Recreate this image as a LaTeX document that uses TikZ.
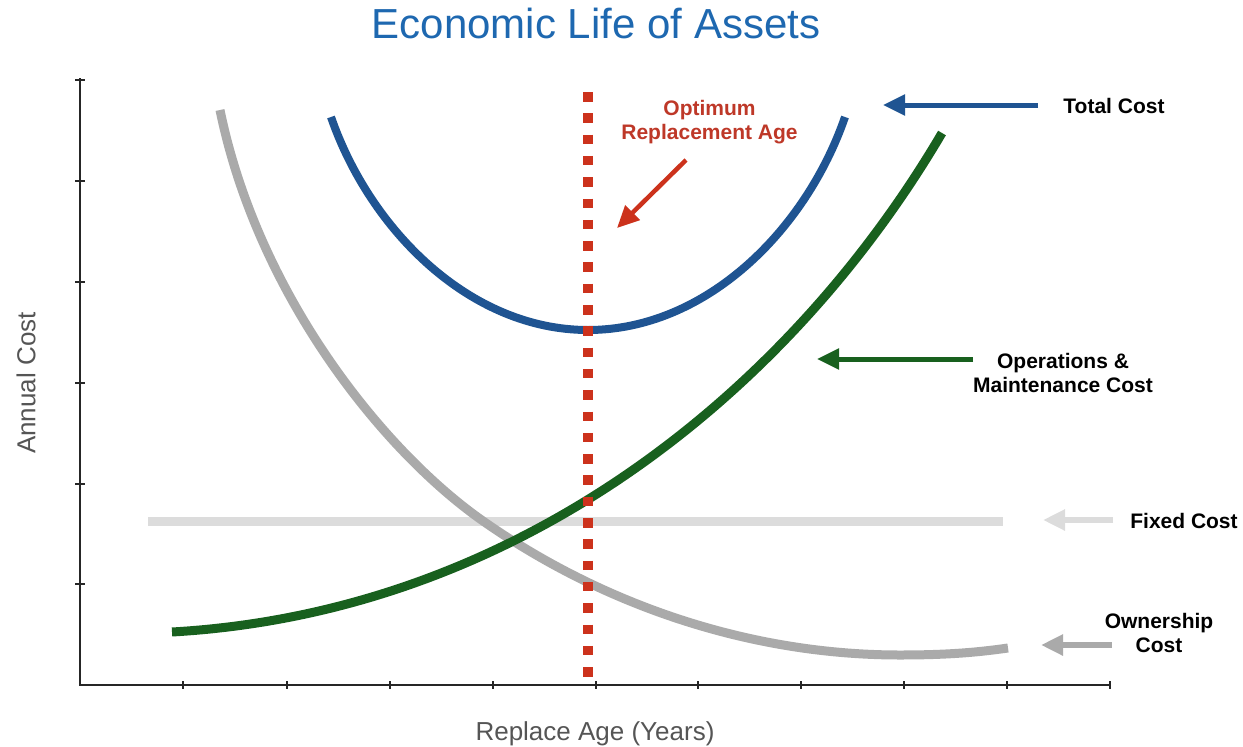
\documentclass[tikz,border=0pt]{standalone}
\usepackage{fontspec}
\setmainfont{Liberation Sans}
\usetikzlibrary{arrows.meta}
\definecolor{titleblue}{RGB}{30,104,176}
\definecolor{tcblue}{RGB}{31,84,146}
\definecolor{omgreen}{RGB}{24,96,30}
\definecolor{optred}{RGB}{204,50,28}
\definecolor{txtred}{RGB}{190,56,40}
\definecolor{fixgray}{RGB}{220,220,220}
\definecolor{owngray}{RGB}{170,170,170}
\definecolor{axisgray}{RGB}{85,85,85}
\tikzset{
  axisline/.style={line width=1.5pt, black!85},
  tickline/.style={line width=1.2pt, black!85},
  axislabel/.style={inner sep=0pt, text=axisgray, font=\fontsize{26}{30}\selectfont},
  costlabel/.style={inner sep=0pt, align=center, font=\bfseries\fontsize{21}{24}\selectfont},
  curve/.style={line width=9pt},
  pointer/.style={line width=5pt, -{Triangle[length=22pt,width=20pt]}},
}
\begin{document}
\begin{tikzpicture}[x=1pt,y=-1pt]
\useasboundingbox (0,0) rectangle (1243,747);
% title
\node[inner sep=0pt, anchor=base, text=titleblue, font=\fontsize{42}{48}\selectfont] (title) at (596,38) {Economic Life of Assets};
% axes
\coordinate (ytop) at (80,78);
\coordinate (org) at (80,685);
\coordinate (xend) at (1110,685);
\draw[axisline] (ytop) -- (org) -- (xend);
\foreach \yy in {80,181,282,383,484,584} \draw[tickline] (75,\yy) -- (85,\yy);
\foreach \xx in {183,287,390,493,596,698,801,904,1007,1110} \draw[tickline] (\xx,681) -- (\xx,689);
\node[axislabel, rotate=90] (ylab) at (26,383) {Annual Cost};
\node[axislabel, anchor=base] (xlab) at (595,740) {Replace Age (Years)};
% fixed cost
\coordinate (fixA) at (148,521);
\coordinate (fixB) at (1003,521);
\draw[fixgray, curve] (fixA) -- (fixB);
% ownership cost
\coordinate (ownA) at (220,110);
\coordinate (ownB) at (483,521);
\coordinate (ownC) at (900,655);
\coordinate (ownD) at (1008,648);
\draw[owngray, curve] (ownA) .. controls (258,295) and (383,451) .. (ownB)
  .. controls (603,605) and (750,655) .. (ownC)
  .. controls (950,655) and (980,652) .. (ownD);
% operations & maintenance cost
\coordinate (omS) at (172,632);
\coordinate (omE) at (942,133);
\draw[omgreen, curve] (omS) .. controls (522,612) and (792,388) .. (omE);
% total cost
\coordinate (tcL) at (331,117);
\coordinate (tcM) at (588,330);
\coordinate (tcR) at (845,117);
\draw[tcblue, line width=8pt] (tcL) .. controls (370,230) and (470,330) .. (tcM)
  .. controls (706,330) and (806,230) .. (tcR);
% optimum line
\coordinate (optTop) at (588,92);
\coordinate (optBot) at (588,678);
\draw[optred, line width=10pt, dash pattern=on 9.5pt off 11.8pt] (optTop) -- (optBot);
% labels and pointers
\node[costlabel, text=txtred] (optlab) at (709.5,122) {Optimum\\Replacement Age};
\coordinate (optA) at (686,160);
\coordinate (optB) at (617,228);
\draw[pointer, optred, line width=4.5pt] (optA) -- (optB);

\node[costlabel, anchor=base] (tclab) at (1114,113.5) {Total Cost};
\coordinate (tcA) at (1038,105);
\coordinate (tcB) at (883,105);
\draw[pointer, tcblue] (tcA) -- (tcB);

\node[costlabel] (omlab) at (1063,373) {Operations \&\\Maintenance Cost};
\coordinate (omA) at (973,359);
\coordinate (omB) at (817,359);
\draw[pointer, omgreen] (omA) -- (omB);

\node[costlabel, anchor=base] (fclab) at (1184,528.5) {Fixed Cost};
\coordinate (fcA) at (1113,520);
\coordinate (fcB) at (1043,520);
\draw[pointer, fixgray, line width=6pt] (fcA) -- (fcB);

\node[costlabel] (oclab) at (1159,632.5) {Ownership\\Cost};
\coordinate (ocA) at (1112,645);
\coordinate (ocB) at (1041,645);
\draw[pointer, owngray, line width=6pt] (ocA) -- (ocB);
\end{tikzpicture}
\end{document}
